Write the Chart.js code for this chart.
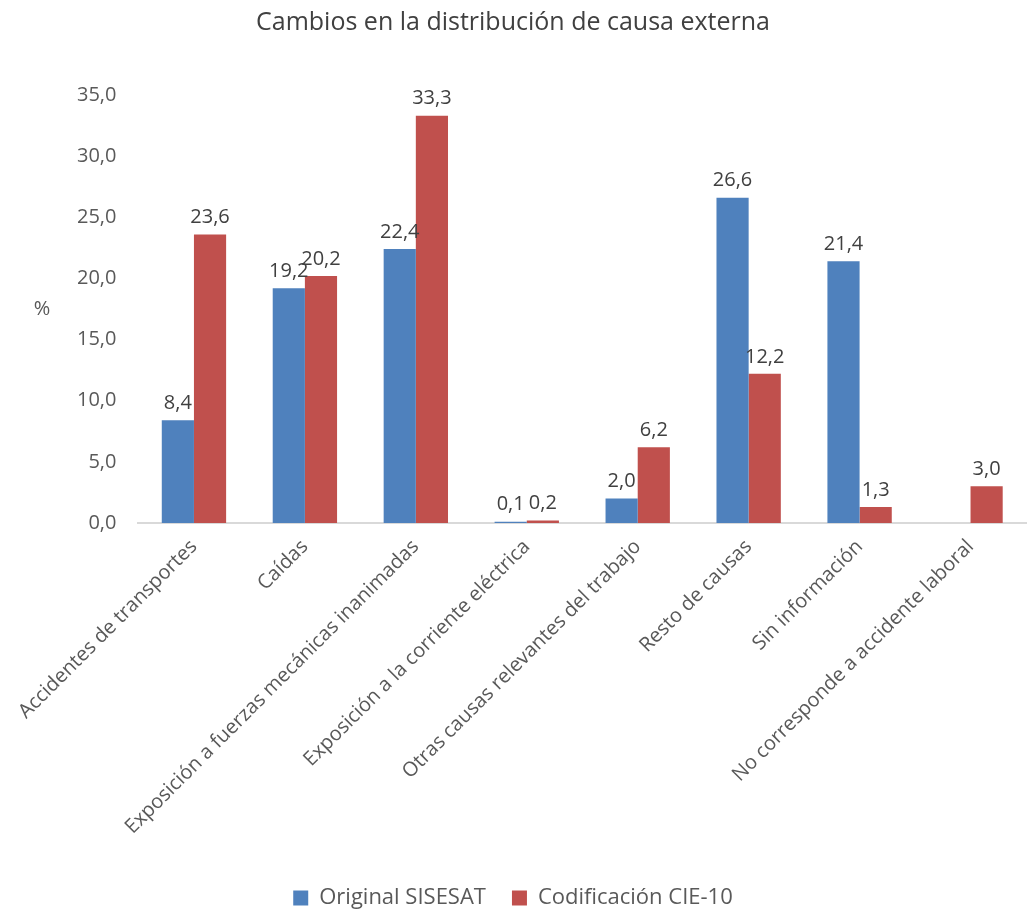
<!DOCTYPE html>
<html>
<head>
<meta charset="utf-8">
<script src="https://cdn.jsdelivr.net/npm/chart.js@4"></script>
<style>
  html, body { margin: 0; padding: 0; background: #fff; }
  #wrap { width: 1029px; height: 911px; }
</style>
</head>
<body>
<div id="wrap"><canvas id="chart"></canvas></div>
<script>
var categories = ['Accidentes de transportes', 'Caídas', 'Exposición a fuerzas mecánicas inanimadas',
    'Exposición a la corriente eléctrica', 'Otras causas relevantes del trabajo', 'Resto de causas',
    'Sin información', 'No corresponde a accidente laboral'];
var original = [8.4, 19.2, 22.4, 0.1, 2.0, 26.6, 21.4, 0];
var cie10 = [23.6, 20.2, 33.3, 0.2, 6.2, 12.2, 1.3, 3.0];
var series_names = ['Original SISESAT', 'Codificación CIE-10'];

function fmt(v) {
    return v.toFixed(1).replace('.', ',');
}

// value labels above the bars
var barLabels = {
    id: 'barLabels',
    afterDatasetsDraw: function(chart) {
        var ctx = chart.ctx;
        ctx.save();
        ctx.font = '20px "Open Sans"';
        ctx.fillStyle = '#404040';
        ctx.textAlign = 'center';
        ctx.textBaseline = 'bottom';
        chart.data.datasets.forEach(function(ds, i) {
            chart.getDatasetMeta(i).data.forEach(function(bar, j) {
                if (!ds.data[j]) return;
                ctx.fillText(fmt(ds.data[j]), bar.x, bar.y - 7);
            });
        });
        ctx.restore();
    }
};

// horizontal "%" axis title
var yTitle = {
    id: 'yTitle',
    afterDraw: function(chart) {
        var ctx = chart.ctx;
        var a = chart.chartArea;
        ctx.save();
        ctx.font = '20px "Open Sans"';
        ctx.fillStyle = '#595959';
        ctx.textAlign = 'center';
        ctx.textBaseline = 'middle';
        ctx.fillText('%', 42, (a.top + a.bottom) / 2);
        ctx.restore();
    }
};

var ctx = document.getElementById('chart').getContext('2d');
var chart = new Chart(ctx, {
    type: 'bar',
    data: {
        labels: categories,
        datasets: [{
            label: series_names[0],
            data: original,
            backgroundColor: '#4F81BD',
            borderWidth: 0
        }, {
            label: series_names[1],
            data: cie10,
            backgroundColor: '#C0504D',
            borderWidth: 0
        }]
    },
    options: {
        responsive: true,
        maintainAspectRatio: false,
        animation: false,
        categoryPercentage: 0.58,
        barPercentage: 1.0,
        layout: { padding: { left: 0, right: 3, top: 8, bottom: -8 } },
        plugins: {
            title: {
                display: true,
                text: 'Cambios en la distribución de causa externa',
                color: '#404040',
                font: { family: 'Open Sans', size: 25, weight: 'normal' },
                padding: { top: 0, bottom: 57 }
            },
            legend: {
                position: 'bottom',
                labels: {
                    color: '#595959',
                    font: { family: 'Open Sans', size: 22 },
                    boxWidth: 15,
                    boxHeight: 15,
                    padding: 26
                }
            },
            tooltip: { enabled: false }
        },
        scales: {
            x: {
                z: 1,
                grid: { display: false, drawTicks: false },
                border: { display: true, color: '#D9D9D9', width: 2 },
                ticks: {
                    color: '#595959',
                    font: { family: 'Open Sans', size: 20 },
                    minRotation: 45,
                    maxRotation: 45,
                    autoSkip: false,
                    padding: 12
                },
                afterFit: function(axis) { axis.height += 10; }
            },
            y: {
                min: 0,
                max: 35,
                grid: { display: false, drawTicks: false },
                border: { display: false },
                ticks: {
                    stepSize: 5,
                    color: '#595959',
                    font: { family: 'Open Sans', size: 20 },
                    padding: 22,
                    callback: function(v) { return fmt(v); }
                },
                afterFit: function(axis) { axis.width += 55; }
            }
        }
    },
    plugins: [barLabels, yTitle]
});
</script>
</body>
</html>
